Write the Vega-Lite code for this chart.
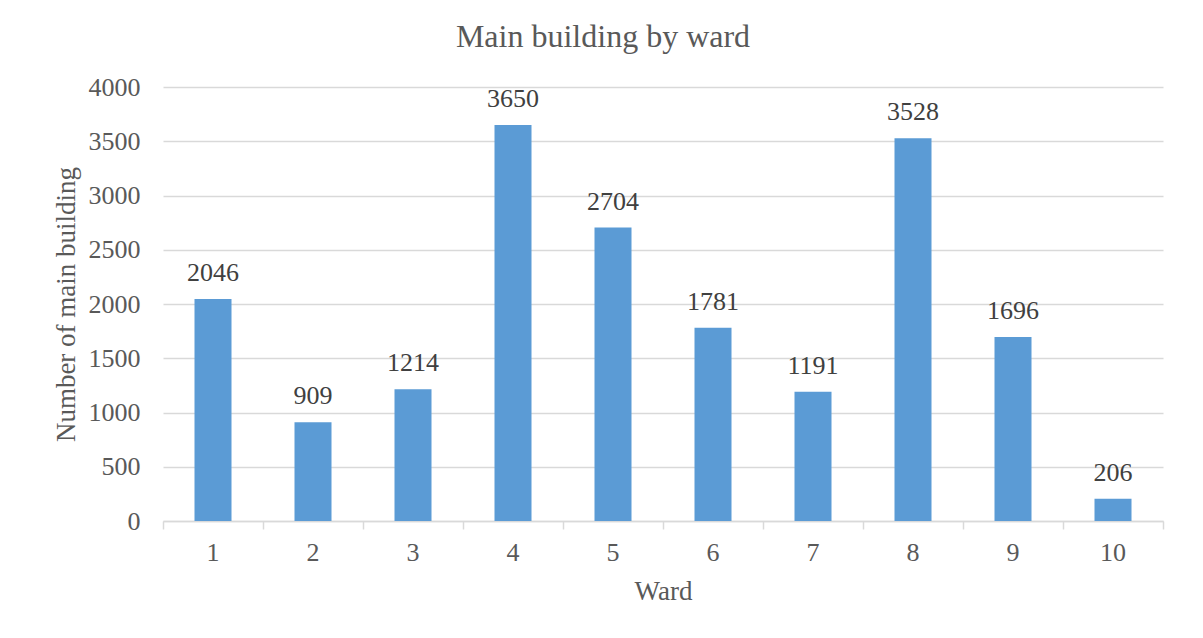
{
  "$schema": "https://vega.github.io/schema/vega-lite/v6.json",
  "autosize": "none",
  "width": 1000,
  "height": 434,
  "padding": {"left": 163, "top": 87, "right": 40, "bottom": 117},
  "background": "white",
  "title": {"text": "Main building by ward", "font": "Liberation Serif", "fontSize": 32, "fontWeight": "normal", "color": "#595959", "offset": 20, "dx": -60},
  "data": {"values": [
    {"ward": "1", "count": 2046},
    {"ward": "2", "count": 909},
    {"ward": "3", "count": 1214},
    {"ward": "4", "count": 3650},
    {"ward": "5", "count": 2704},
    {"ward": "6", "count": 1781},
    {"ward": "7", "count": 1191},
    {"ward": "8", "count": 3528},
    {"ward": "9", "count": 1696},
    {"ward": "10", "count": 206}
  ]},
  "config": {
    "view": {"stroke": null},
    "font": "Liberation Serif",
    "axis": {"labelFont": "Liberation Serif", "titleFont": "Liberation Serif", "labelColor": "#595959", "titleColor": "#595959", "labelFontSize": 26, "titleFontSize": 27, "titleFontWeight": "normal"}
  },
  "resolve": {"scale": {"x": "independent"}, "axis": {"x": "independent"}},
  "layer": [
    {
      "encoding": {
        "x": {"field": "ward", "type": "ordinal", "sort": null, "title": "Ward",
          "scale": {"paddingInner": 0.63, "paddingOuter": 0.315},
          "axis": {"orient": "bottom", "labelAngle": 0, "ticks": false, "domainColor": "#d9d9d9", "domainWidth": 1.5, "labelPadding": 18, "titlePadding": 13}},
        "y": {"field": "count", "type": "quantitative", "title": "Number of main building",
          "scale": {"domain": [0, 4000]},
          "axis": {"values": [0, 500, 1000, 1500, 2000, 2500, 3000, 3500, 4000], "format": "d", "domain": false, "ticks": false, "labelPadding": 23, "gridColor": "#d9d9d9", "gridWidth": 1.5, "titlePadding": 8}}
      },
      "layer": [
        {"mark": {"type": "bar", "color": "#5b9bd5"}},
        {"mark": {"type": "text", "baseline": "alphabetic", "dy": -18, "font": "Liberation Serif", "fontSize": 26, "color": "#404040"},
         "encoding": {"text": {"field": "count", "type": "quantitative"}}}
      ]
    },
    {
      "mark": {"type": "tick", "opacity": 0},
      "encoding": {
        "x": {"field": "ward", "type": "ordinal", "sort": null,
          "scale": {"paddingInner": 0, "paddingOuter": 0},
          "axis": {"orient": "bottom", "title": null, "labels": false, "domain": false, "tickBand": "extent", "tickColor": "#d9d9d9", "tickWidth": 1.5, "tickSize": 8}}
      }
    }
  ]
}
